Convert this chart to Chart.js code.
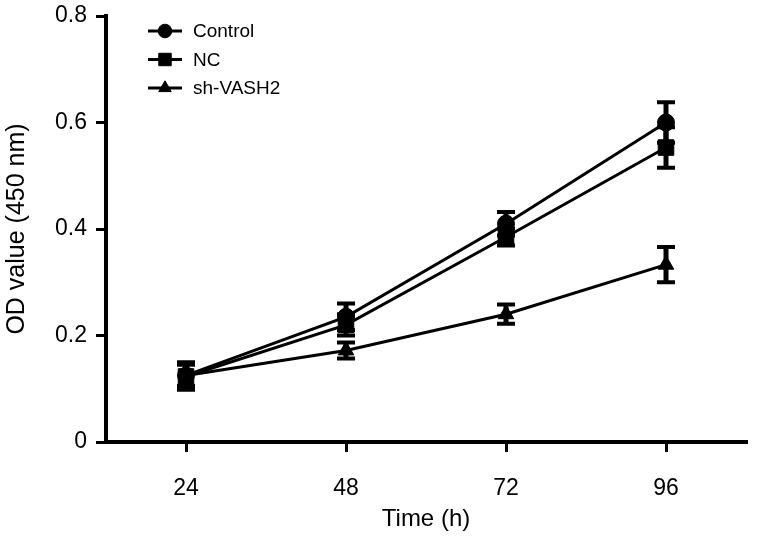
<!DOCTYPE html>
<html>
<head>
<meta charset="utf-8">
<script src="https://cdn.jsdelivr.net/npm/chart.js@4.4.1/dist/chart.umd.min.js"></script>
<style>
  html, body { margin: 0; padding: 0; background: #fff; }
  #wrap { width: 758px; height: 536px; }
</style>
</head>
<body>
<div id="wrap"><canvas id="c" width="758" height="536"></canvas></div>
<script>
// ---- data ----
const times = [24, 48, 72, 96];
const yTicks = [0, 0.2, 0.4, 0.6, 0.8];
const seriesLabels = ['Control', 'NC', 'sh-VASH2'];
const control = [0.125, 0.235, 0.41, 0.60];
const controlErr = [0.025, 0.025, 0.022, 0.038];
const nc = [0.123, 0.22, 0.385, 0.553];
const ncErr = [0.025, 0.02, 0.016, 0.038];
const shVASH2 = [0.125, 0.172, 0.24, 0.333];
const shVASH2Err = [0.02, 0.015, 0.018, 0.033];

const FONT = "'Liberation Sans', Arial, Helvetica, sans-serif";

function pts(vals) { return times.map((t, i) => ({ x: t, y: vals[i] })); }

const datasets = [
  { label: seriesLabels[0], data: pts(control), err: controlErr, pointStyle: 'circle', pointRadius: 8.5 },
  { label: seriesLabels[1], data: pts(nc), err: ncErr, pointStyle: 'rect', pointRadius: 11 },
  { label: seriesLabels[2], data: pts(shVASH2), err: shVASH2Err, pointStyle: 'triangle', pointRadius: 9 }
].map(d => Object.assign(d, {
  borderColor: '#000', backgroundColor: '#000', borderWidth: 3,
  pointBackgroundColor: '#000', pointBorderColor: '#000', pointBorderWidth: 1,
  fill: false, tension: 0
}));

const errorBars = {
  id: 'errorBars',
  afterDatasetsDraw(chart) {
    const ctx = chart.ctx, xs = chart.scales.x, ys = chart.scales.y;
    ctx.save();
    ctx.strokeStyle = '#000';
    chart.data.datasets.forEach(ds => {
      ds.data.forEach((p, i) => {
        const e = ds.err[i];
        const px = xs.getPixelForValue(p.x);
        const top = ys.getPixelForValue(p.y + e);
        const bot = ys.getPixelForValue(p.y - e);
        ctx.lineWidth = 5;
        ctx.beginPath(); ctx.moveTo(px, top); ctx.lineTo(px, bot); ctx.stroke();
        ctx.lineWidth = 4;
        ctx.beginPath();
        ctx.moveTo(px - 9, top); ctx.lineTo(px + 9, top);
        ctx.moveTo(px - 9, bot); ctx.lineTo(px + 9, bot);
        ctx.stroke();
      });
    });
    ctx.restore();
  }
};

const lineLegend = {
  id: 'lineLegend',
  afterDraw(chart) {
    const ctx = chart.ctx, a = chart.chartArea;
    ctx.save();
    chart.data.datasets.forEach((ds, i) => {
      const y = a.top + 15 + i * 28.5;
      const x0 = a.left + 42, x1 = a.left + 76;
      ctx.strokeStyle = '#000'; ctx.fillStyle = '#000'; ctx.lineWidth = 3;
      ctx.beginPath(); ctx.moveTo(x0, y); ctx.lineTo(x1, y); ctx.stroke();
      ctx.lineWidth = 1;
      Chart.helpers.drawPoint(ctx, { pointStyle: ds.pointStyle, rotation: 0, radius: ds.pointRadius * 0.8, borderWidth: 1 }, (x0 + x1) / 2, y);
      ctx.font = '19px ' + FONT;
      ctx.textBaseline = 'middle';
      ctx.textAlign = 'left';
      ctx.fillStyle = '#000';
      ctx.fillText(ds.label, a.left + 87, y + 1);
    });
    ctx.restore();
  }
};

new Chart(document.getElementById('c'), {
  type: 'line',
  data: { datasets },
  plugins: [errorBars, lineLegend],
  options: {
    responsive: false,
    animation: false,
    devicePixelRatio: 1,
    layout: { padding: { top: 16, right: 8, left: 0, bottom: 0 } },
    plugins: { legend: { display: false }, tooltip: { enabled: false } },
    scales: {
      x: {
        type: 'linear', min: 12, max: 108,
        afterBuildTicks: s => { s.ticks = times.map(v => ({ value: v })); },
        afterFit: s => { s.height = 94; s.paddingLeft = 0; s.paddingRight = 0; },
        grid: { drawOnChartArea: false, drawTicks: true, tickLength: 10, color: '#000', lineWidth: 3 },
        border: { display: true, color: '#000', width: 4 },
        ticks: { color: '#000', font: { family: FONT, size: 23 }, padding: 23, maxRotation: 0 },
        title: { display: true, text: 'Time (h)', color: '#000', font: { family: FONT, size: 24 }, padding: { top: 0, bottom: 2 } }
      },
      y: {
        min: 0, max: 0.8,
        afterBuildTicks: s => { s.ticks = yTicks.map(v => ({ value: v })); },
        afterFit: s => { s.width = 106; s.paddingTop = 0; s.paddingBottom = 0; },
        grid: { drawOnChartArea: false, drawTicks: true, tickLength: 10, color: '#000', lineWidth: 3 },
        border: { display: true, color: '#000', width: 4 },
        ticks: { color: '#000', font: { family: FONT, size: 23 }, padding: 9, callback: v => String(v) },
        title: { display: true, text: 'OD value (450 nm)', color: '#000', font: { family: FONT, size: 25 }, padding: { top: 2, bottom: 0 } }
      }
    }
  }
});
</script>
</body>
</html>
